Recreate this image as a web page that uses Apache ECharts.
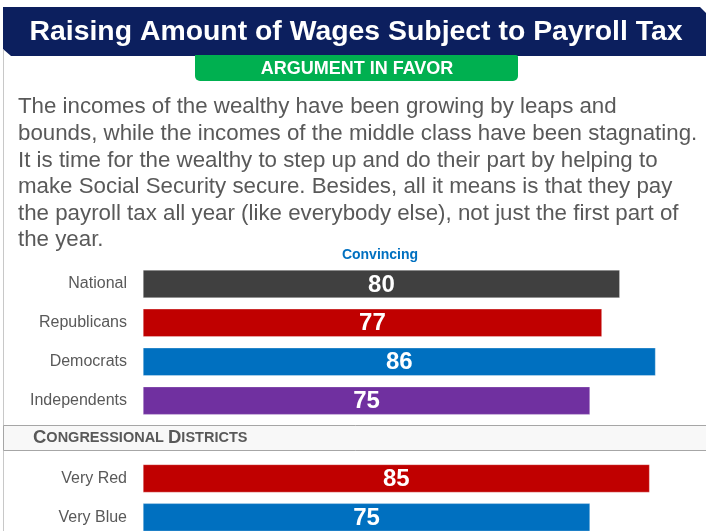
<!DOCTYPE html>
<html>
<head>
<meta charset="utf-8">
<style>
  html, body { margin: 0; padding: 0; background: #fff; }
  #chart { width: 706px; height: 531px; }
</style>
<script src="https://cdn.jsdelivr.net/npm/echarts@6/dist/echarts.min.js"></script>
</head>
<body>
<div id="chart"></div>
<script>
// chart data
const groups = ["National", "Republicans", "Democrats", "Independents", "", "Very Red", "Very Blue"];
const convincing = [80, 77, 86, 75, null, 85, 75];
const barColors = ["#404040", "#c00000", "#0070c0", "#7030a0", "#ffffff", "#c00000", "#0070c0"];

const chartTitle = "Raising Amount of Wages Subject to Payroll Tax";
const bannerText = "ARGUMENT IN FAVOR";
const seriesName = "Convincing";
const argumentLines = [
  "The incomes of the wealthy have been growing by leaps and",
  "bounds, while the incomes of the middle class have been stagnating.",
  "It is time for the wealthy to step up and do their part by helping to",
  "make Social Security secure. Besides, all it means is that they pay",
  "the payroll tax all year (like everybody else), not just the first part of",
  "the year."
];

const FONT = "'Liberation Sans', Arial, sans-serif";

const myChart = echarts.init(document.getElementById("chart"), null, { renderer: "canvas" });

const option = {
  animation: false,
  backgroundColor: "#ffffff",
  grid: {
    left: 143,
    top: 264.5,
    width: 596, // 0..100 -> 5.96px per point
    height: 272.3,
    outerBoundsMode: "none"
  },
  xAxis: {
    type: "value",
    min: 0,
    max: 100,
    show: false
  },
  yAxis: {
    type: "category",
    data: groups,
    inverse: true,
    axisLine: { show: false },
    axisTick: { show: false },
    splitLine: { show: false },
    axisLabel: {
      margin: 16,
      fontSize: 16,
      fontFamily: FONT,
      color: "#595959"
    }
  },
  graphic: [
    // left border
    {
      type: "line",
      shape: { x1: 3.5, y1: 50, x2: 3.5, y2: 531 },
      style: { stroke: "#c8c8c8", lineWidth: 1 },
      z: 1
    },
    // title bar
    {
      type: "polygon",
      shape: { points: [[3, 7], [700, 7], [706, 13], [706, 56], [11, 56], [3, 49]] },
      style: { fill: "#0c1f5e" },
      z: 5
    },
    {
      type: "text",
      x: 356,
      y: 32,
      style: {
        text: chartTitle,
        fill: "#ffffff",
        font: "bold 28.4px " + FONT,
        textAlign: "center",
        textVerticalAlign: "middle"
      },
      z: 6
    },
    // green banner
    {
      type: "rect",
      shape: { x: 195, y: 55, width: 323, height: 26, r: [0, 2, 5, 5] },
      style: { fill: "#00b050" },
      z: 7
    },
    {
      type: "text",
      x: 357,
      y: 69,
      style: {
        text: bannerText,
        fill: "#ffffff",
        font: "bold 18px " + FONT,
        textAlign: "center",
        textVerticalAlign: "middle"
      },
      z: 8
    },
    // argument paragraph
    {
      type: "text",
      x: 18,
      y: 94,
      style: {
        text: argumentLines.join("\n"),
        fill: "#595959",
        font: "22.3px " + FONT,
        lineHeight: 26.6,
        textAlign: "left",
        textVerticalAlign: "top"
      },
      z: 6
    },
    // column header
    {
      type: "text",
      x: 380,
      y: 255,
      style: {
        text: seriesName,
        fill: "#0070c0",
        font: "bold 14px " + FONT,
        textAlign: "center",
        textVerticalAlign: "middle"
      },
      z: 6
    },
    // congressional districts band
    {
      type: "rect",
      shape: { x: 3.5, y: 425.5, width: 710, height: 25 },
      style: { fill: "#f8f8f8", stroke: "#a6a6a6", lineWidth: 1 },
      z: 2
    },
    {
      type: "text",
      x: 33,
      y: 438,
      style: {
        text: "{b|C}{s|ONGRESSIONAL }{b|D}{s|ISTRICTS}",
        textVerticalAlign: "middle",
        rich: {
          b: { fontSize: 18.5, fontWeight: "bold", fontFamily: FONT, fill: "#595959", color: "#595959" },
          s: { fontSize: 14.5, fontWeight: "bold", fontFamily: FONT, fill: "#595959", color: "#595959" }
        }
      },
      z: 3
    }
  ],
  series: [
    {
      name: seriesName,
      type: "bar",
      barWidth: 28,
      data: convincing.map((v, i) => ({
        value: v,
        itemStyle: { color: barColors[i] }
      })),
      itemStyle: { borderColor: "rgba(255,255,255,0.6)", borderWidth: 0.5 },
      label: {
        show: true,
        position: "inside",
        color: "#ffffff",
        fontFamily: FONT,
        fontWeight: "bold",
        fontSize: 24,
        offset: [0, 1],
        formatter: (p) => (p.value == null ? "" : p.value)
      },
      z: 4
    }
  ]
};

myChart.setOption(option);
</script>
</body>
</html>
